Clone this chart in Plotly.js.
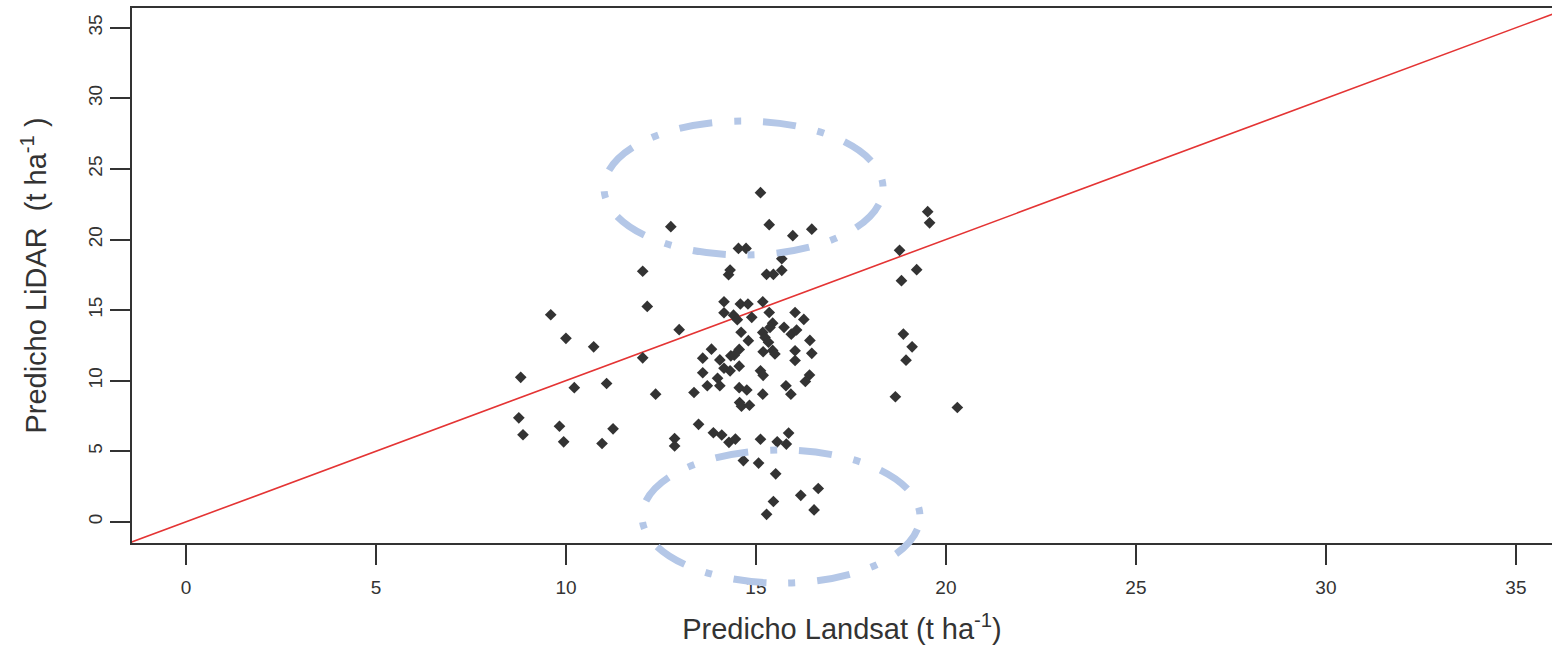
<!DOCTYPE html>
<html>
<head>
<meta charset="utf-8">
<script src="https://cdn.plot.ly/plotly-3.0.1.min.js"></script>
<style>html,body{margin:0;padding:0;background:#fff;}#chart{width:1552px;height:649px;}</style>
</head>
<body>
<div id="chart"></div>
<script>
// Predicted biomass: Landsat (x) vs LiDAR (y), t ha-1
var landsat = [8.81,8.76,8.87,9.60,10.00,10.22,9.83,9.94,10.73,11.07,11.24,10.95,12.02,12.14,12.02,12.36,12.76,12.98,12.86,12.86,
  13.37,13.49,13.60,13.60,13.72,13.83,13.88,13.99,14.05,14.05,14.10,14.16,14.16,14.16,14.32,14.28,14.32,14.29,14.46,14.34,
  14.43,14.41,14.51,14.56,14.54,14.74,14.56,14.56,14.76,14.57,14.62,14.83,14.61,14.59,14.79,14.67,14.80,14.89,15.07,15.12,
  15.12,15.19,15.12,15.18,15.18,15.19,15.18,15.24,15.33,15.35,15.35,15.28,15.46,15.44,15.37,15.44,15.50,15.52,15.56,15.46,
  15.28,15.68,15.68,15.74,15.79,15.92,15.80,15.86,15.93,16.07,15.97,16.03,16.03,16.03,16.26,16.18,16.41,16.30,16.42,16.47,
  16.47,16.53,16.64,18.67,18.78,18.83,18.88,18.95,19.11,19.23,19.52,19.57,20.30];
var lidar = [10.24,7.37,6.17,14.67,13.00,9.50,6.77,5.67,12.40,9.80,6.59,5.55,17.75,15.26,11.62,9.04,20.91,13.61,5.90,5.37,
  9.16,6.91,11.59,10.56,9.64,12.23,6.31,10.17,9.64,11.47,6.15,15.59,14.81,10.88,10.70,17.51,17.84,5.63,5.86,11.76,
  11.80,14.64,14.32,12.21,19.37,19.37,11.03,9.50,9.34,8.45,8.19,8.26,13.43,15.43,15.43,4.34,12.83,14.49,4.16,23.32,
  10.70,10.38,5.85,15.59,9.04,12.05,13.42,13.06,12.72,21.05,14.83,17.53,17.53,14.07,13.77,12.14,11.89,3.40,5.67,1.44,
  0.53,18.64,17.82,13.78,9.64,9.04,5.51,6.29,13.29,13.59,20.27,14.83,12.12,11.43,14.34,1.88,10.40,9.94,12.85,20.73,
  11.94,0.84,2.36,8.86,19.23,17.08,13.30,11.45,12.40,17.86,21.97,21.18,8.10];
// 1:1 reference line
var refLine = [-2, 37];
var tickValues = [0, 5, 10, 15, 20, 25, 30, 35];
var xRange = [-1.42, 35.95];
var yRange = [-1.5, 36.4];

var axisCol = '#333333';
var fnt = 'Liberation Sans, Arial, sans-serif';

var traces = [
  {x: refLine, y: refLine, mode: 'lines', type: 'scatter',
   line: {color: 'rgb(228,52,52)', width: 1.6}, hoverinfo: 'skip', showlegend: false},
  {x: landsat, y: lidar, mode: 'markers', type: 'scatter',
   marker: {symbol: 'diamond', size: 9, color: '#333333'}, showlegend: false}
];

var ellCol = 'rgb(180,199,231)';

var layout = {
  width: 1552, height: 649,
  margin: {l: 132, r: 0, t: 8, b: 106},
  paper_bgcolor: '#ffffff', plot_bgcolor: '#ffffff',
  showlegend: false,
  font: {family: fnt, color: axisCol},
  xaxis: {
    range: xRange, tickvals: tickValues, ticktext: tickValues.map(String),
    showgrid: false, zeroline: false, showline: true, mirror: true,
    linecolor: axisCol, linewidth: 2, ticks: 'outside', ticklen: 20, tickwidth: 2, tickcolor: axisCol,
    tickfont: {size: 19, color: axisCol, family: fnt}, ticklabelstandoff: 6,
    title: {text: 'Predicho Landsat (t ha<sup>-1</sup>)', font: {size: 29, color: axisCol, family: fnt}, standoff: 22}
  },
  yaxis: {
    range: yRange, tickvals: tickValues, ticktext: tickValues.map(String),
    showgrid: false, zeroline: false, showline: true, mirror: false,
    linecolor: axisCol, linewidth: 2, ticks: 'outside', ticklen: 20, tickwidth: 2, tickcolor: axisCol,
    tickfont: {size: 19, color: axisCol, family: fnt}, tickangle: -90,
    title: {text: 'Predicho LiDAR  (t ha<sup>-1</sup> )', font: {size: 29, color: axisCol, family: fnt}, standoff: 30}
  },
  shapes: [
    {type: 'circle', xref: 'paper', yref: 'paper', x0: 0.3324, x1: 0.5289, y0: 0.5383, y1: 0.7888,
     line: {color: ellCol, width: 7, dash: '0px,17px,33px,22px,7px,5px'}, layer: 'above'},
    {type: 'circle', xref: 'paper', yref: 'paper', x0: 0.3592, x1: 0.5549, y0: -0.0748, y1: 0.1738,
     line: {color: ellCol, width: 7, dash: '0px,13px,33px,22px,7px,9px'}, layer: 'above'}
  ]
};

Plotly.newPlot('chart', traces, layout, {displayModeBar: false, staticPlot: true});
</script>
</body>
</html>
